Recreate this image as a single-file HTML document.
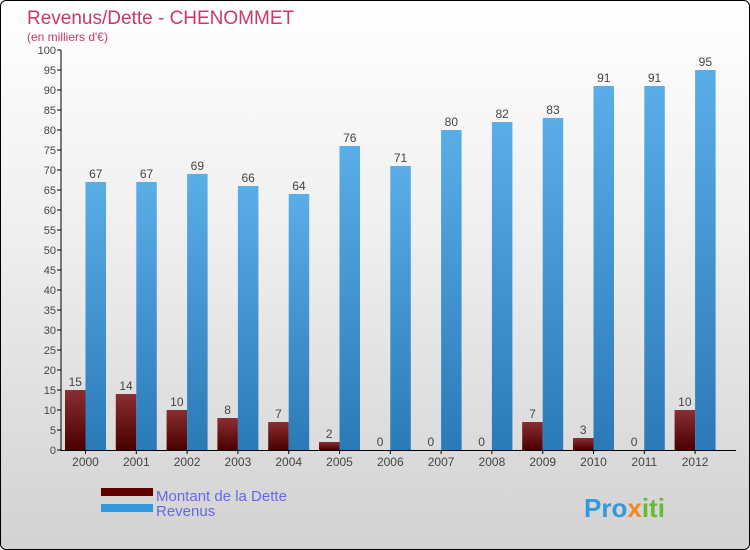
<!DOCTYPE html>
<html><head><meta charset="utf-8"><style>
body{margin:0}
#c{position:relative;width:748px;height:548px;border:1px solid #000;border-radius:6px;overflow:hidden;background:linear-gradient(#ffffff,#f0f0f0 40%,#d2d2d2);font-family:"Liberation Sans",sans-serif}
</style></head><body>
<div id="c">
<svg id="s" width="748" height="548">
<defs>
<linearGradient id="gd" x1="0" y1="0" x2="0" y2="1"><stop offset="0" stop-color="#8a2e33"/><stop offset="1" stop-color="#4a0000"/></linearGradient>
<linearGradient id="gr" x1="0" y1="0" x2="0" y2="1"><stop offset="0" stop-color="#5aaee8"/><stop offset="1" stop-color="#2a7ab8"/></linearGradient>
</defs>
<text x="26" y="23" font-size="19" fill="#c8386a">Revenus/Dette - CHENOMMET</text>
<text x="26" y="40" font-size="12" fill="#c8386a">(en milliers d'€)</text>
<g id="ax"></g><g id="bars"></g>
<rect x="100" y="487" width="52" height="8" fill="#600000"/>
<text x="155" y="500" font-size="15" fill="#6666ee">Montant de la Dette</text>
<rect x="100" y="503" width="52" height="8" fill="#3399dd"/>
<text x="155" y="515" font-size="15" fill="#6666ee">Revenus</text>
<text x="583" y="516" font-size="26" font-weight="bold" fill="#3399dd">Pro<tspan fill="#ee8822">x</tspan><tspan fill="#66bb33">iti</tspan></text>
</svg>
</div>
<script>
const years=["2000","2001","2002","2003","2004","2005","2006","2007","2008","2009","2010","2011","2012"];
const dette=[15,14,10,8,7,2,0,0,0,7,3,0,10];
const revenus=[67,67,69,66,64,76,71,80,82,83,91,91,95];
const yTicks=[0,5,10,15,20,25,30,35,40,45,50,55,60,65,70,75,80,85,90,95,100];
const NS="http://www.w3.org/2000/svg";
const y0=449,k=4,x0=64,gw=50.8,bw=20.5;
const Y=v=>y0-v*k, X=i=>x0+i*gw;
function mk(t,a,p){const e=document.createElementNS(NS,t);for(const q in a)e.setAttribute(q,a[q]);p.appendChild(e);return e;}
const ax=document.getElementById('ax'),bars=document.getElementById('bars');
const al=mk('line',{x1:60,y1:Y(100),x2:60,y2:y0+1,stroke:'#000'},ax);


const xl=mk('line',{x1:60,y1:y0+0.5,x2:735,y2:y0+0.5,stroke:'#000'},ax);


yTicks.forEach(v=>{
 mk('line',{x1:56,y1:Y(v),x2:60,y2:Y(v),stroke:'#000'},ax);
 const t=mk('text',{x:55,y:Y(v)+4,'font-size':11,fill:'#444','text-anchor':'end'},ax);t.textContent=v;
 
 
});
years.forEach((yr,i)=>{
 const x=X(i);
 const d=mk('rect',{x:x,y:Y(dette[i]),width:bw,height:dette[i]*k,fill:'url(#gd)'},bars);
 
 
 const r=mk('rect',{x:x+bw,y:Y(revenus[i]),width:bw,height:revenus[i]*k,fill:'url(#gr)'},bars);
 
 
 const t1=mk('text',{x:x+bw/2,y:Y(dette[i])-4,'font-size':12,fill:'#444','text-anchor':'middle'},bars);t1.textContent=dette[i];
 
 
 const t2=mk('text',{x:x+bw*1.5,y:Y(revenus[i])-4,'font-size':12,fill:'#444','text-anchor':'middle'},bars);t2.textContent=revenus[i];
 
 
 mk('line',{x1:x+bw,y1:y0,x2:x+bw,y2:y0+4,stroke:'#000'},ax);
 const xt=mk('text',{x:x+bw,y:y0+16,'font-size':12,fill:'#444','text-anchor':'middle'},ax);xt.textContent=yr;
 
 
});
</script>
</body></html>
